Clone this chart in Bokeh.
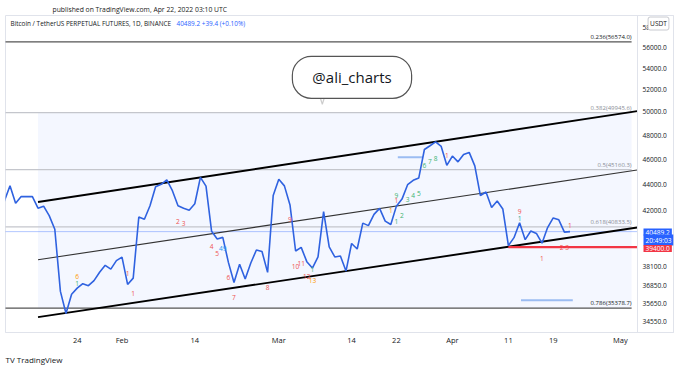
import numpy as np
import pandas as pd
from bokeh.plotting import figure
from bokeh.models import (Range1d, FixedTicker, PrintfTickFormatter, Label, PolyAnnotation,
                          Span, Title)
from bokeh.core.properties import value
from bokeh.embed import file_html
from bokeh.resources import INLINE

# ---------------- data ----------------
first_date = "2022-01-10"
close = [
    41820, 42730, 43900, 42560, 43070, 43080, 43070, 42200, 42350, 41650, 40660,
    36440, 35050, 36260, 36650, 36940, 36810, 37140, 37690, 38150, 37900, 38470,
    38710, 36890, 37300, 41550, 41380, 42380, 43820, 44010, 44360, 43520, 42380,
    42190, 42050, 42530, 44550, 43870, 40510, 39970, 40080, 38350, 37010, 38230,
    37240, 38310, 39200, 39090, 37680, 43150,
    44400, 43890, 42440, 39130, 39380, 38400, 37970, 38720, 41940, 39420, 38720,
    38790, 37770, 39650, 39270, 41100, 40920, 41740, 42180, 41250, 41000, 42350,
    42880, 43980, 44320, 44510, 46800, 47110, 47430, 47050, 45510,
    46260, 45790, 46390, 46560, 45470, 43150, 43420, 42250, 42740, 42140, 39500,
    40060, 41130, 39920, 40530, 40360, 39670, 40780, 41480, 41340, 40450, 40489.2,
]
dates = pd.date_range(first_date, periods=len(close), freq="D")

tick_dates = ["2022-01-24", "2022-02-01", "2022-02-14", "2022-03-01", "2022-03-14",
              "2022-03-22", "2022-04-01", "2022-04-11", "2022-04-19", "2022-05-01"]
tick_labels = ["24", "Feb", "14", "Mar", "14", "22", "Apr", "11", "19", "May"]
y_ticks = [58000, 56000, 54000, 52000, 50000, 48000, 46000, 44000, 42000,
           38100, 36850, 35650, 34550]

fib_ratio = ["0.236", "0.382", "0.5", "0.618", "0.786"]
fib_price = [56574.0, 49945.6, 45160.3, 40833.5, 35378.7]
fib_left = "2021-12-20"
fib_right = "2022-05-03"
fill_left = "2022-01-17"

channel_dates = ["2022-01-17", "2022-05-04"]
channel_top = [42660, 50070]
channel_mid = [38530, 45140]
channel_bot = [34820, 40785]

support_price = 39400.0
support_start = "2022-04-11"
last_price = 40489.2
last_change = "+39.4 (+0.10%)"
countdown = "20:49:03"

mark_start = ["2022-03-22 06:00", "2022-04-13 06:00"]
mark_end = ["2022-03-26 18:00", "2022-04-22 12:00"]
mark_price = [46160, 35880]

td_dates = ["2022-01-24", "2022-01-24", "2022-02-02", "2022-02-03", "2022-02-11",
            "2022-02-12", "2022-02-17", "2022-02-18", "2022-02-19", "2022-02-20",
            "2022-02-21", "2022-02-27", "2022-03-03", "2022-03-04", "2022-03-05",
            "2022-03-06", "2022-03-07", "2022-03-07", "2022-03-22", "2022-03-22",
            "2022-03-21", "2022-03-22", "2022-03-23", "2022-03-24", "2022-03-25",
            "2022-03-26", "2022-03-27", "2022-03-28", "2022-03-29", "2022-03-31",
            "2022-04-13", "2022-04-13", "2022-04-22", "2022-04-21", "2022-04-17"]
td_prices = [37400, 36940, 37600, 36300, 41200,
             41050, 39430, 38950, 39290, 37340,
             36040, 36690, 41340, 38070, 38270,
             37400, 37860, 37140, 43120, 42740,
             42000, 41200, 41630, 42820, 43120,
             43270, 45530, 45780, 46100, 46340,
             41930, 41420, 40910, 39360, 38590]
td_texts = ["6", "1", "1", "1", "2",
            "3", "4", "5", "49", "6",
            "7", "8", "9", "10", "11",
            "12", "1", "13", "9", "1",
            "1", "1", "2", "3", "4",
            "5", "6", "7", "8", "1",
            "9", "1", "1", "2 3", "1"]
td_kind = ["o", "g", "r", "r", "r",
           "r", "r", "r", "b", "r",
           "r", "r", "r", "r", "r",
           "r", "g", "o", "g", "r",
           "o", "g", "g", "g", "g",
           "g", "g", "g", "g", "r",
           "r", "t", "r", "r", "r"]

# ---------------- helpers ----------------
BASE = pd.Timestamp("2022-01-01")
def dnum(d):
    t = pd.to_datetime(d)
    if isinstance(t, pd.Timestamp):
        return (t - BASE) / pd.Timedelta(days=1)
    return ((t - BASE) / pd.Timedelta(days=1)).to_numpy()

xs = dnum(dates)
x_start = dnum("2022-01-11") + 0.196     # page x = 5
x_split = dnum("2022-05-04") + 0.05      # page x = 637 (price-scale separator)
x_end = dnum("2022-05-10") + 0.482       # page x = 673
y_lo, y_hi = 33891, 59272

FL, FT, FR, FB = 5, 15, 673, 333   # frame edges in page pixels
def sx(px):
    return px - FL
def sy(py):
    return FB - py

FONT = "Open Sans"
p = figure(width=680, height=368, x_range=Range1d(x_start, x_end),
           y_range=Range1d(y_lo, y_hi), y_axis_type="log", y_axis_location="right",
           output_backend="svg", toolbar_location=None,
           min_border_left=FL, min_border_right=680 - FR, min_border_top=FT,
           min_border_bottom=368 - FB)
p.grid.visible = False
p.outline_line_color = "#e0e3eb"
p.background_fill_color = "white"
p.border_fill_color = "white"

# axes
tick_x = [int(round(v)) for v in dnum(tick_dates)]
p.xaxis.ticker = FixedTicker(ticks=tick_x)
p.xaxis.major_label_overrides = {k: l for k, l in zip(tick_x, tick_labels)}
p.yaxis.ticker = FixedTicker(ticks=y_ticks)
p.yaxis.formatter = PrintfTickFormatter(format="%.1f")
for ax in (p.xaxis[0], p.yaxis[0]):
    ax.major_tick_line_color = None
    ax.minor_tick_line_color = None
    ax.major_tick_out = 0
    ax.major_tick_in = 0
    ax.axis_line_color = "#e0e3eb"
    ax.major_label_text_color = "#131722"
    ax.major_label_text_font = FONT
p.xaxis.major_label_text_font_size = "7.5px"
p.yaxis.major_label_text_font_size = "6.6px"
p.xaxis.major_label_standoff = 2
p.yaxis.major_label_standoff = -31

# price-scale separator
p.add_layout(Span(location=x_split, dimension="height", line_color="#e0e3eb", line_width=1))

# fib background
p.quad(left=dnum(fill_left), right=dnum(fib_right), bottom=fib_price[-1], top=fib_price[1],
       fill_color="#2962ff", fill_alpha=0.05, line_color=None)
fib_line_col = ["#555555", "#c4c6cc", "#c4c6cc", "#c4c6cc", "#555555"]
fib_text_col = ["#131722", "#8a8d96", "#8a8d96", "#8a8d96", "#131722"]
p.segment(x0=[dnum(fib_left)] * 5, x1=[dnum(fib_right)] * 5, y0=fib_price, y1=fib_price,
          line_color=fib_line_col, line_width=1.2)
p.text(x=[dnum(fib_right)] * 5, y=fib_price,
       text=[f"{r}({v:.1f})" for r, v in zip(fib_ratio, fib_price)],
       text_align="right", text_baseline="bottom", y_offset=-1,
       text_font_size="6px", text_color=fib_text_col, text_font=value(FONT))

# current price line
p.segment(x0=x_start - 5, x1=x_split, y0=last_price, y1=last_price,
          line_color="#2962ff", line_alpha=0.35, line_width=1)

# channel
cx = dnum(channel_dates)
p.line(cx, channel_top, line_color="black", line_width=1.9)
p.line(cx, channel_mid, line_color="#333333", line_width=1.1)
p.line(cx, channel_bot, line_color="black", line_width=1.9)

# support
p.segment(x0=dnum(support_start), x1=x_split, y0=support_price, y1=support_price,
          line_color="#f23645", line_width=2.2)

# marks
p.segment(x0=dnum(mark_start), x1=dnum(mark_end), y0=mark_price, y1=mark_price,
          line_color="#9bbcf2", line_width=2)

# price
p.line(xs, close, line_color="#2f62e0", line_width=1.6)

# TD numbers
kcol = {"r": "#ef5350", "g": "#3cb371", "o": "#ff9800", "b": "#2196f3", "t": "#26a69a"}
p.text(x=dnum(td_dates), y=td_prices, text=td_texts, text_color=[kcol[k] for k in td_kind],
       text_align="center", text_baseline="middle", text_font_size="6.6px",
       text_font=value(FONT))

# ---------------- annotations ----------------
def slabel(px, py, text, **kw):
    kw.setdefault("text_font", FONT)
    kw.setdefault("text_baseline", "middle")
    p.add_layout(Label(x=sx(px), y=sy(py), x_units="screen", y_units="screen",
                       text=text, **kw))

p.add_layout(Title(text="published on TradingView.com, Apr 22, 2022 03:10 UTC",
                   align="left", offset=47, standoff=4, text_font_size="6.8px",
                   text_font_style="normal", text_color="#222222", text_font=FONT), "above")
p.add_layout(Title(text="TV TradingView", align="left", offset=0, standoff=8,
                   text_font_size="8px", text_font_style="normal", text_color="#131722",
                   text_font=FONT), "below")

slabel(10, 24, "Bitcoin / TetherUS PERPETUAL FUTURES, 1D, BINANCE",
       text_font_size="6.4px", text_color="#131722")
slabel(176, 24, f"{last_price:.1f}  {last_change}",
       text_font_size="6.4px", text_color="#2962ff")
slabel(658, 24, "USDT", text_align="center", text_font_size="6.6px", text_color="#131722",
       background_fill_color="white", border_line_color="#c8cad0", padding=2,
       border_radius=2)
slabel(643, 232.5, f"{last_price:.1f}", text_font_size="6.6px", text_color="white",
       background_fill_color="#2962ff", padding=(2, 1))
slabel(643, 240.5, countdown, text_font_size="6.6px", text_color="white",
       background_fill_color="#2962ff", padding=(2, 1))
slabel(643, 249, f"{support_price:.1f}", text_font_size="6.6px", text_color="white",
       background_fill_color="#f23645", padding=(2, 1))

# speech bubble
bx = dnum("2022-03-14") + 0.07
p.add_layout(PolyAnnotation(xs=[bx - 6.3, bx - 5.3, bx - 4.3], ys=[52300, 50690, 52300],
                            fill_color="white", fill_alpha=1, line_color="#555555",
                            line_width=1.2))
p.add_layout(Label(x=bx, y=53150, text="@ali_charts", text_align="center",
                   text_baseline="middle", text_font_size="15px", text_color="#131722",
                   text_font=FONT, background_fill_color="white", border_line_color="#555555",
                   border_line_width=1.2, padding=(20, 11), border_radius=19))

open("out.html", "w").write(file_html(p, INLINE))
